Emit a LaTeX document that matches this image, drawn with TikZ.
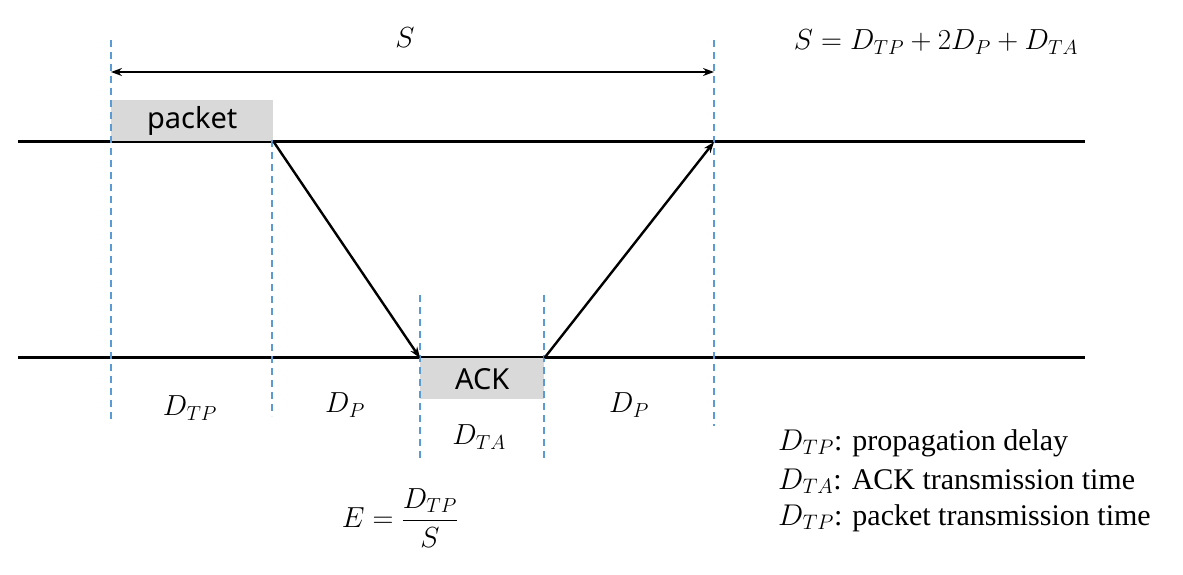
\RequirePackage{fix-cm}
\documentclass[tikz,border=0pt]{standalone}
\usepackage{fontspec}
\setmainfont{Liberation Serif}
\newfontfamily\boxfont{Noto Sans}
\usetikzlibrary{arrows.meta}
\definecolor{dashblue}{HTML}{5B9BD5}
\definecolor{boxgray}{HTML}{D9D9D9}
\begin{document}
\begin{tikzpicture}[x=1pt,y=-1pt,
  timeline/.style={line width=3pt,black},
  guide/.style={dashblue,line width=1.8pt,dash pattern=on 7pt off 5pt},
  msg/.style={line width=2.4pt,-{Stealth[length=11pt,width=8pt]}},
  boxnode/.style={fill=boxgray,inner sep=0pt,anchor=north west,font=\boxfont\fontsize{29}{32}\selectfont},
  mlabel/.style={font=\fontsize{29}{34}\selectfont},
  legend/.style={font=\fontsize{30}{38}\selectfont,anchor=west,inner sep=0pt}]
\useasboundingbox (0,0) rectangle (1183,575);
% timelines
\coordinate (tl) at (18,142);
\coordinate (tr) at (1085,142);
\coordinate (bl) at (18,357);
\coordinate (br) at (1085,357);
\draw[timeline] (tl) -- (tr);
\draw[timeline] (bl) -- (br);
% boxes
\node[boxnode,minimum width=162pt,minimum height=41pt] (packet) at (111,100) {packet};
\node[boxnode,minimum width=124pt,minimum height=41pt] (ack) at (420,358) {ACK};
% guides
\coordinate (g1a) at (111,40);  \coordinate (g1b) at (111,420);
\coordinate (g2a) at (272,140); \coordinate (g2b) at (272,416);
\coordinate (g3a) at (420,295); \coordinate (g3b) at (420,462);
\coordinate (g4a) at (544,295); \coordinate (g4b) at (544,462);
\coordinate (g5a) at (714,40);  \coordinate (g5b) at (714,426);
\draw[guide] (g1a) -- (g1b);
\draw[guide] (g2a) -- (g2b);
\draw[guide] (g3a) -- (g3b);
\draw[guide] (g4a) -- (g4b);
\draw[guide] (g5a) -- (g5b);
% S span
\coordinate (sl) at (111,72);
\coordinate (sr) at (714,72);
\draw[line width=1.3pt,{Stealth[length=11pt,width=8pt]}-{Stealth[length=11pt,width=8pt]}] (sl) -- (sr);
\node[mlabel] (S) at (405,38) {$S$};
\node[mlabel] (Sform) at (936,42) {$S = D_{TP} + 2D_P + D_{TA}$};
% messages
\coordinate (recv) at (714,142);
\draw[msg] (packet.south east) -- (ack.north west);
\draw[msg] (ack.north east) -- (recv);
% interval labels
\node[mlabel] (l1) at (190,408) {$D_{TP}$};
\node[mlabel] (l2) at (345,405) {$D_P$};
\node[mlabel] (l3) at (479,437) {$D_{TA}$};
\node[mlabel] (l4) at (629,405) {$D_P$};
% efficiency
\node[mlabel] (E) at (400,518) {$\displaystyle E = \frac{D_{TP}}{S}$};
% legend
\node[legend] (k1) at (778,443) {$D_{TP}$: propagation delay};
\node[legend] (k2) at (778,481) {$D_{TA}$: ACK transmission time};
\node[legend] (k3) at (778,518) {$D_{TP}$: packet transmission time};
\end{tikzpicture}
\end{document}
